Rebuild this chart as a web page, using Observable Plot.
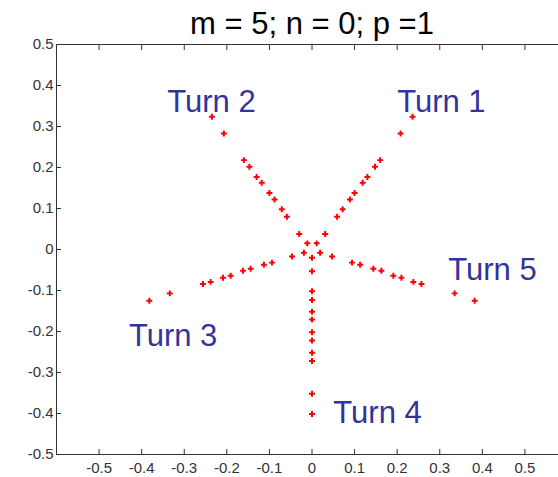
<!DOCTYPE html>
<html><head><meta charset="utf-8">
<script src="https://cdn.jsdelivr.net/npm/d3@7"></script>
<script src="https://cdn.jsdelivr.net/npm/@observablehq/plot@0.6"></script>
<style>
html,body{margin:0;padding:0;background:#fff;overflow:hidden;}
#chart svg{overflow:hidden;display:block;}
</style></head><body><div id="chart"></div>
<script>
const title = "m = 5; n = 0; p =1";

const turn1X = [0.236, 0.208, 0.160, 0.148, 0.130, 0.119, 0.100, 0.089, 0.072, 0.059, 0.031, 0.011];
const turn1Y = [0.324, 0.283, 0.218, 0.202, 0.177, 0.163, 0.138, 0.122, 0.098, 0.080, 0.038, 0.015];
const turn2X = [-0.235, -0.207, -0.160, -0.147, -0.130, -0.118, -0.100, -0.088, -0.071, -0.059, -0.030, -0.011];
const turn2Y = [0.324, 0.283, 0.218, 0.202, 0.177, 0.163, 0.138, 0.122, 0.098, 0.080, 0.038, 0.015];
const turn3X = [-0.382, -0.334, -0.256, -0.238, -0.209, -0.191, -0.162, -0.144, -0.113, -0.094, -0.047, -0.019];
const turn3Y = [-0.125, -0.107, -0.084, -0.079, -0.069, -0.064, -0.052, -0.047, -0.037, -0.032, -0.017, -0.008];
const turn4X = [0, 0, 0, 0, 0, 0, 0, 0, 0, 0, 0, 0];
const turn4Y = [-0.401, -0.352, -0.272, -0.252, -0.222, -0.202, -0.171, -0.152, -0.123, -0.102, -0.053, -0.020];
const turn5X = [0.382, 0.335, 0.257, 0.238, 0.210, 0.191, 0.163, 0.144, 0.113, 0.094, 0.047, 0.019];
const turn5Y = [-0.125, -0.107, -0.084, -0.079, -0.069, -0.064, -0.052, -0.047, -0.037, -0.032, -0.017, -0.008];

const labelText = ["Turn 1", "Turn 2", "Turn 3", "Turn 4", "Turn 5"];
const labelX = [0.20, -0.34, -0.43, 0.05, 0.32];
const labelY = [0.36, 0.36, -0.21, -0.40, -0.05];

const xTicks = [-0.5, -0.4, -0.3, -0.2, -0.1, 0, 0.1, 0.2, 0.3, 0.4, 0.5];
const xTickLabels = ["-0.5", "-0.4", "-0.3", "-0.2", "-0.1", "0", "0.1", "0.2", "0.3", "0.4", "0.5"];
const yTicks = [-0.5, -0.4, -0.3, -0.2, -0.1, 0, 0.1, 0.2, 0.3, 0.4, 0.5];
const yTickLabels = ["-0.5", "-0.4", "-0.3", "-0.2", "-0.1", "0", "0.1", "0.2", "0.3", "0.4", "0.5"];

const turnsX = [turn1X, turn2X, turn3X, turn4X, turn5X];
const turnsY = [turn1Y, turn2Y, turn3Y, turn4Y, turn5Y];
const points = [];
turnsX.forEach((xs, k) => xs.forEach((x, i) => points.push({x, y: turnsY[k][i]})));
const labels = labelText.map((t, i) => ({t, x: labelX[i], y: labelY[i]}));

const fontFam = "Arial, 'Liberation Sans', Helvetica, sans-serif";
const axisColor = "#333";
const fmt = (ticks, labs) => d => { const i = ticks.findIndex(t => Math.abs(t - d) < 1e-9); return i < 0 ? "" : labs[i]; };

const chart = Plot.plot({
  width: 558, height: 477,
  marginLeft: 56, marginRight: -9, marginTop: 44, marginBottom: 23,
  x: {domain: [-0.6, 0.6]},
  y: {domain: [-0.5, 0.5]},
  style: {fontFamily: fontFam, background: "#fff"},
  marks: [
    Plot.frame({stroke: axisColor, strokeWidth: 1}),
    Plot.axisX(xTicks, {anchor: "bottom", tickSize: -5, tickPadding: 13, tickFormat: fmt(xTicks, xTickLabels), fontSize: 15, color: axisColor, label: null}),
    Plot.axisX(xTicks, {anchor: "top", tickSize: -5, tickFormat: () => "", color: axisColor, label: null}),
    Plot.axisY(yTicks, {anchor: "left", tickSize: -5, tickPadding: 8, tickFormat: fmt(yTicks, yTickLabels), fontSize: 15, color: axisColor, label: null}),
    Plot.axisY(yTicks, {anchor: "right", tickSize: -5, tickFormat: () => "", color: axisColor, label: null}),
    Plot.dot(points, {x: "x", y: "y", symbol: "cross", fill: "#ff0000", r: 2.5}),
    Plot.text(labels, {x: "x", y: "y", text: "t", textAnchor: "start", lineAnchor: "middle", fontSize: 31, fill: "#333399"}),
    Plot.text([title], {text: d => d, frameAnchor: "top", dy: -20, lineAnchor: "middle", fontSize: 31, fill: "#000"})
  ]
});
document.getElementById("chart").appendChild(chart);
</script>
</body></html>
